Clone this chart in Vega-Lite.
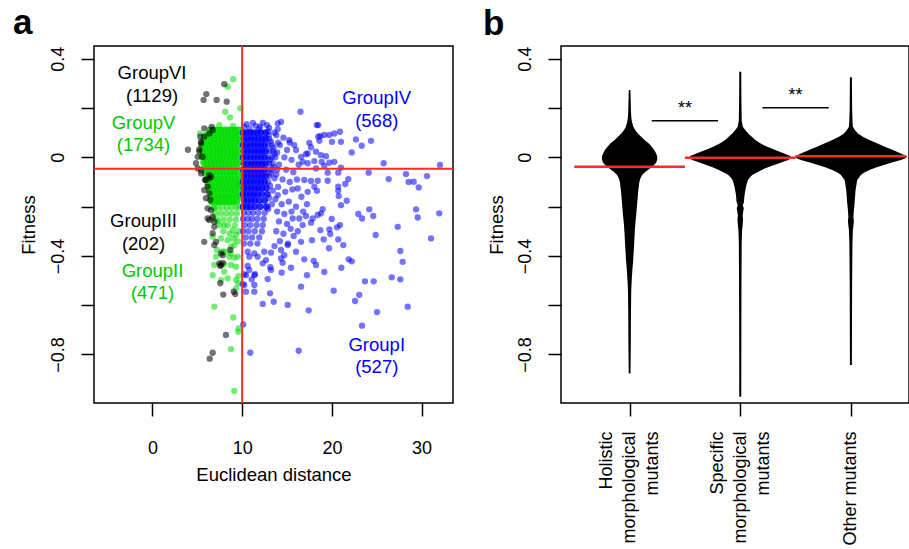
{
"$schema":"https://vega.github.io/schema/vega-lite/v6.json",
"padding":{"left":12,"top":5,"right":0,"bottom":0},
"spacing":108,
"bounds":"flush",
"config":{
"font":"Liberation Sans",
"view":{"stroke":"black","strokeWidth":1.5},
"axis":{"domain":false,"ticks":true,"tickColor":"black","tickWidth":1.5,"tickSize":13,"labelFont":"Liberation Sans","labelFontSize":18,"labelColor":"black","titleFont":"Liberation Sans","titleFontSize":18.5,"titleColor":"black","titleFontWeight":"normal","grid":false,"labelOverlap":false,"labelFlush":false},
"title":{"font":"Liberation Sans","fontSize":35,"fontWeight":"bold","anchor":"start","frame":"group","baseline":"alphabetic","offset":4,"color":"black"}
},
"datasets":{
"pts":[
{"d":8.0,"f":0.297,"c":"k"},{"d":6.0,"f":0.257,"c":"k"},{"d":5.7,"f":0.233,"c":"k"},{"d":7.15,"f":0.233,"c":"k"},{"d":8.27,"f":0.226,"c":"k"},{"d":3.95,"f":0.031,"c":"k"},
{"d":6.71,"f":0.111,"c":"k"},{"d":6.33,"f":0.097,"c":"k"},{"d":5.77,"f":0.084,"c":"k"},{"d":5.41,"f":0.063,"c":"k"},{"d":5.22,"f":0.032,"c":"k"},{"d":5.04,"f":0.002,"c":"k"},{"d":4.85,"f":-0.024,"c":"k"},{"d":5.41,"f":-0.052,"c":"k"},{"d":6.33,"f":-0.072,"c":"k"},{"d":5.96,"f":-0.092,"c":"k"},{"d":6.33,"f":-0.085,"c":"k"},{"d":6.52,"f":-0.079,"c":"k"},{"d":5.77,"f":-0.133,"c":"k"},{"d":5.96,"f":-0.166,"c":"k"},{"d":6.15,"f":-0.207,"c":"k"},{"d":6.15,"f":-0.248,"c":"k"},{"d":6.71,"f":-0.241,"c":"k"},{"d":6.89,"f":-0.261,"c":"k"},{"d":5.77,"f":-0.343,"c":"k"},{"d":6.89,"f":-0.356,"c":"k"},{"d":7.08,"f":-0.343,"c":"k"},{"d":7.83,"f":-0.397,"c":"k"},{"d":7.45,"f":-0.43,"c":"k"},{"d":7.64,"f":-0.437,"c":"k"},{"d":7.56,"f":-0.441,"c":"k"},{"d":7.83,"f":-0.428,"c":"k"},{"d":7.56,"f":-0.511,"c":"k"},{"d":7.89,"f":-0.557,"c":"k"},{"d":9.05,"f":-0.545,"c":"k"},{"d":9.23,"f":-0.555,"c":"k"},{"d":8.19,"f":-0.721,"c":"k"},{"d":6.71,"f":-0.793,"c":"k"},{"d":6.38,"f":-0.817,"c":"k"},{"d":8.67,"f":-0.376,"c":"k"},{"d":7.64,"f":-0.39,"c":"k"},
{"d":5.04,"f":-0.045,"c":"k"},{"d":5.41,"f":-0.065,"c":"k"},{"d":5.85,"f":-0.092,"c":"k"},{"d":6.15,"f":-0.119,"c":"k"},{"d":6.33,"f":-0.146,"c":"k"},{"d":6.44,"f":-0.173,"c":"k"},{"d":6.52,"f":-0.214,"c":"k"},{"d":6.33,"f":-0.254,"c":"k"},{"d":6.89,"f":-0.282,"c":"k"},{"d":6.71,"f":-0.308,"c":"k"},{"d":5.77,"f":0.118,"c":"k"},{"d":6.6,"f":0.124,"c":"k"},{"d":5.41,"f":0.057,"c":"k"},{"d":5.33,"f":0.084,"c":"k"},{"d":5.6,"f":0.002,"c":"k"},{"d":5.22,"f":0.023,"c":"k"},
{"d":9.0,"f":0.317,"c":"g"},{"d":8.38,"f":0.287,"c":"g"},{"d":8.12,"f":0.185,"c":"g"},{"d":8.64,"f":0.162,"c":"g"},{"d":9.79,"f":0.199,"c":"g"},{"d":8.97,"f":0.128,"c":"g"},{"d":7.45,"f":0.131,"c":"g"},{"d":5.3,"f":0.097,"c":"g"},
{"d":6.8,"f":-0.204,"c":"g"},{"d":7.3,"f":-0.204,"c":"g"},{"d":7.8,"f":-0.204,"c":"g"},{"d":8.3,"f":-0.204,"c":"g"},{"d":8.8,"f":-0.204,"c":"g"},{"d":9.3,"f":-0.204,"c":"g"},{"d":9.7,"f":-0.204,"c":"g"},
{"d":7.0,"f":-0.228,"c":"g"},{"d":7.6,"f":-0.228,"c":"g"},{"d":8.2,"f":-0.228,"c":"g"},{"d":8.8,"f":-0.228,"c":"g"},{"d":9.4,"f":-0.228,"c":"g"},
{"d":7.2,"f":-0.252,"c":"g"},{"d":7.9,"f":-0.252,"c":"g"},{"d":8.6,"f":-0.252,"c":"g"},{"d":9.3,"f":-0.252,"c":"g"},
{"d":7.5,"f":-0.276,"c":"g"},{"d":8.4,"f":-0.276,"c":"g"},{"d":9.2,"f":-0.276,"c":"g"},
{"d":6.89,"f":-0.207,"c":"g"},{"d":6.71,"f":-0.248,"c":"g"},{"d":7.27,"f":-0.261,"c":"g"},{"d":8.0,"f":-0.275,"c":"g"},{"d":8.94,"f":-0.295,"c":"g"},{"d":9.31,"f":-0.315,"c":"g"},{"d":6.71,"f":-0.322,"c":"g"},{"d":7.64,"f":-0.329,"c":"g"},{"d":8.38,"f":-0.336,"c":"g"},{"d":9.12,"f":-0.356,"c":"g"},{"d":8.75,"f":-0.363,"c":"g"},{"d":7.83,"f":-0.383,"c":"g"},{"d":7.08,"f":-0.403,"c":"g"},{"d":8.56,"f":-0.403,"c":"g"},{"d":9.12,"f":-0.407,"c":"g"},{"d":6.89,"f":-0.437,"c":"g"},{"d":8.0,"f":-0.434,"c":"g"},{"d":8.75,"f":-0.437,"c":"g"},{"d":9.31,"f":-0.444,"c":"g"},{"d":6.71,"f":-0.478,"c":"g"},{"d":8.38,"f":-0.491,"c":"g"},{"d":9.31,"f":-0.498,"c":"g"},{"d":7.64,"f":-0.498,"c":"g"},{"d":9.57,"f":-0.511,"c":"g"},{"d":9.31,"f":-0.532,"c":"g"},{"d":6.89,"f":-0.606,"c":"g"},{"d":9.0,"f":-0.65,"c":"g"},{"d":9.59,"f":-0.694,"c":"g"},{"d":9.57,"f":-0.708,"c":"g"},{"d":8.75,"f":-0.778,"c":"g"},{"d":9.12,"f":-0.948,"c":"g"},{"d":7.19,"f":-0.376,"c":"g"},{"d":8.08,"f":-0.383,"c":"g"},{"d":8.75,"f":-0.39,"c":"g"},{"d":9.5,"f":-0.403,"c":"g"},{"d":8.0,"f":-0.464,"c":"g"},{"d":9.57,"f":-0.482,"c":"g"},{"d":9.6,"f":-0.3,"c":"g"},{"d":8.6,"f":-0.31,"c":"g"},{"d":7.9,"f":-0.3,"c":"g"},{"d":9.5,"f":-0.34,"c":"g"},{"d":9.0,"f":-0.33,"c":"g"},
{"d":13.0,"f":0.075,"c":"b"},{"d":12.9,"f":0.05,"c":"b"},{"d":13.3,"f":0.05,"c":"b"},{"d":13.0,"f":0.025,"c":"b"},{"d":13.4,"f":0.025,"c":"b"},{"d":12.9,"f":0.0,"c":"b"},{"d":13.3,"f":0.0,"c":"b"},{"d":13.7,"f":0.0,"c":"b"},{"d":13.0,"f":-0.025,"c":"b"},{"d":13.4,"f":-0.025,"c":"b"},{"d":12.9,"f":-0.05,"c":"b"},{"d":13.3,"f":-0.05,"c":"b"},{"d":13.0,"f":-0.075,"c":"b"},{"d":12.9,"f":-0.1,"c":"b"},
{"d":10.8,"f":0.118,"c":"b"},{"d":11.9,"f":0.115,"c":"b"},{"d":12.9,"f":0.105,"c":"b"},{"d":11.2,"f":0.14,"c":"b"},{"d":12.0,"f":0.125,"c":"b"},{"d":12.95,"f":0.09,"c":"b"},{"d":13.2,"f":0.065,"c":"b"},{"d":13.5,"f":0.04,"c":"b"},{"d":13.6,"f":0.015,"c":"b"},{"d":13.1,"f":-0.01,"c":"b"},{"d":13.5,"f":-0.04,"c":"b"},{"d":13.2,"f":-0.065,"c":"b"},{"d":13.6,"f":-0.085,"c":"b"},{"d":13.1,"f":-0.115,"c":"b"},{"d":13.4,"f":-0.135,"c":"b"},{"d":13.0,"f":-0.165,"c":"b"},{"d":13.3,"f":-0.19,"c":"b"},{"d":12.9,"f":-0.21,"c":"b"},{"d":13.9,"f":-0.05,"c":"b"},{"d":14.0,"f":0.06,"c":"b"},{"d":13.6,"f":0.1,"c":"b"},
{"d":10.2,"f":-0.225,"c":"b"},{"d":10.7,"f":-0.225,"c":"b"},{"d":11.2,"f":-0.225,"c":"b"},{"d":11.8,"f":-0.225,"c":"b"},{"d":12.5,"f":-0.225,"c":"b"},
{"d":10.1,"f":-0.25,"c":"b"},{"d":10.6,"f":-0.25,"c":"b"},{"d":11.1,"f":-0.25,"c":"b"},{"d":11.7,"f":-0.25,"c":"b"},{"d":12.4,"f":-0.25,"c":"b"},
{"d":10.3,"f":-0.275,"c":"b"},{"d":10.9,"f":-0.275,"c":"b"},{"d":11.6,"f":-0.275,"c":"b"},{"d":12.3,"f":-0.275,"c":"b"},
{"d":10.1,"f":-0.3,"c":"b"},{"d":10.7,"f":-0.3,"c":"b"},{"d":11.4,"f":-0.3,"c":"b"},{"d":12.2,"f":-0.3,"c":"b"},
{"d":10.4,"f":-0.325,"c":"b"},{"d":11.1,"f":-0.325,"c":"b"},{"d":11.9,"f":-0.325,"c":"b"},
{"d":10.2,"f":-0.35,"c":"b"},{"d":10.9,"f":-0.35,"c":"b"},{"d":11.7,"f":-0.35,"c":"b"},
{"d":10.5,"f":0.135,"c":"b"},{"d":11.5,"f":0.128,"c":"b"},{"d":12.3,"f":0.14,"c":"b"},{"d":13.0,"f":0.12,"c":"b"},{"d":10.2,"f":0.125,"c":"b"},{"d":12.76,"f":0.131,"c":"b"},{"d":13.96,"f":0.138,"c":"b"},{"d":14.33,"f":0.144,"c":"b"},{"d":13.96,"f":0.114,"c":"b"},{"d":16.5,"f":0.185,"c":"b"},{"d":18.48,"f":0.131,"c":"b"},{"d":15.25,"f":0.07,"c":"b"},{"d":17.48,"f":0.059,"c":"b"},{"d":18.48,"f":0.084,"c":"b"},{"d":16.0,"f":0.03,"c":"b"},{"d":16.56,"f":0.002,"c":"b"},{"d":17.3,"f":0.016,"c":"b"},
{"d":13.8,"f":0.09,"c":"b"},{"d":14.6,"f":0.08,"c":"b"},{"d":15.3,"f":0.06,"c":"b"},{"d":14.2,"f":0.05,"c":"b"},{"d":15.0,"f":0.03,"c":"b"},{"d":15.8,"f":0.05,"c":"b"},{"d":13.9,"f":0.02,"c":"b"},{"d":14.7,"f":0.0,"c":"b"},{"d":15.5,"f":-0.01,"c":"b"},{"d":16.3,"f":-0.03,"c":"b"},{"d":14.1,"f":-0.03,"c":"b"},{"d":14.9,"f":-0.05,"c":"b"},{"d":15.7,"f":-0.06,"c":"b"},{"d":13.8,"f":-0.07,"c":"b"},{"d":14.5,"f":-0.09,"c":"b"},{"d":15.3,"f":-0.1,"c":"b"},{"d":16.1,"f":-0.09,"c":"b"},{"d":14.0,"f":-0.12,"c":"b"},{"d":14.8,"f":-0.14,"c":"b"},{"d":15.6,"f":-0.13,"c":"b"},{"d":16.6,"f":-0.16,"c":"b"},{"d":13.7,"f":-0.17,"c":"b"},{"d":14.4,"f":-0.19,"c":"b"},{"d":15.2,"f":-0.18,"c":"b"},{"d":16.0,"f":-0.2,"c":"b"},{"d":13.9,"f":-0.22,"c":"b"},{"d":14.7,"f":-0.23,"c":"b"},{"d":15.5,"f":-0.22,"c":"b"},{"d":16.8,"f":-0.22,"c":"b"},{"d":14.1,"f":-0.26,"c":"b"},{"d":15.0,"f":-0.27,"c":"b"},{"d":13.8,"f":-0.3,"c":"b"},{"d":14.6,"f":-0.31,"c":"b"},{"d":15.4,"f":-0.29,"c":"b"},{"d":16.2,"f":-0.3,"c":"b"},{"d":14.2,"f":-0.34,"c":"b"},{"d":15.1,"f":-0.35,"c":"b"},{"d":13.6,"f":-0.36,"c":"b"},
{"d":18.31,"f":0.131,"c":"b"},{"d":18.71,"f":0.086,"c":"b"},{"d":19.15,"f":0.091,"c":"b"},{"d":19.71,"f":0.091,"c":"b"},{"d":20.27,"f":0.097,"c":"b"},{"d":20.9,"f":0.104,"c":"b"},{"d":18.6,"f":0.067,"c":"b"},{"d":20.01,"f":0.063,"c":"b"},{"d":21.01,"f":0.063,"c":"b"},{"d":22.68,"f":0.073,"c":"b"},{"d":23.32,"f":0.047,"c":"b"},{"d":24.36,"f":0.067,"c":"b"},{"d":22.21,"f":0.02,"c":"b"},{"d":17.67,"f":0.041,"c":"b"},{"d":18.23,"f":0.023,"c":"b"},{"d":17.11,"f":0.013,"c":"b"},{"d":16.74,"f":-0.018,"c":"b"},{"d":17.3,"f":-0.024,"c":"b"},{"d":18.04,"f":-0.015,"c":"b"},{"d":18.78,"f":0.009,"c":"b"},{"d":19.34,"f":0.005,"c":"b"},{"d":18.86,"f":-0.018,"c":"b"},{"d":19.71,"f":-0.022,"c":"b"},{"d":20.27,"f":-0.018,"c":"b"},{"d":18.23,"f":-0.045,"c":"b"},{"d":19.15,"f":-0.035,"c":"b"},{"d":21.01,"f":-0.042,"c":"b"},{"d":25.77,"f":-0.024,"c":"b"},{"d":32.05,"f":-0.031,"c":"b"},{"d":19.53,"f":-0.062,"c":"b"},{"d":20.71,"f":-0.062,"c":"b"},{"d":24.1,"f":-0.062,"c":"b"},{"d":28.26,"f":-0.068,"c":"b"},{"d":30.6,"f":-0.076,"c":"b"},{"d":16.92,"f":-0.092,"c":"b"},{"d":17.67,"f":-0.096,"c":"b"},{"d":18.42,"f":-0.095,"c":"b"},{"d":19.53,"f":-0.095,"c":"b"},{"d":21.83,"f":-0.088,"c":"b"},{"d":26.33,"f":-0.088,"c":"b"},{"d":28.56,"f":-0.1,"c":"b"},{"d":29.12,"f":-0.099,"c":"b"},{"d":29.68,"f":-0.122,"c":"b"},{"d":21.49,"f":-0.108,"c":"b"},{"d":20.71,"f":-0.119,"c":"b"},{"d":20.71,"f":-0.136,"c":"b"},{"d":20.76,"f":-0.157,"c":"b"},{"d":18.04,"f":-0.119,"c":"b"},{"d":18.34,"f":-0.136,"c":"b"},{"d":17.3,"f":-0.14,"c":"b"},{"d":21.65,"f":-0.176,"c":"b"},{"d":21.01,"f":-0.194,"c":"b"},{"d":24.17,"f":-0.211,"c":"b"},{"d":29.38,"f":-0.211,"c":"b"},{"d":18.97,"f":-0.21,"c":"b"},
{"d":17.22,"f":-0.19,"c":"b"},{"d":17.11,"f":-0.238,"c":"b"},{"d":17.86,"f":-0.248,"c":"b"},{"d":18.42,"f":-0.234,"c":"b"},{"d":18.78,"f":-0.227,"c":"b"},{"d":17.67,"f":-0.265,"c":"b"},{"d":16.74,"f":-0.275,"c":"b"},{"d":19.98,"f":-0.25,"c":"b"},{"d":22.94,"f":-0.23,"c":"b"},{"d":23.36,"f":-0.248,"c":"b"},{"d":24.61,"f":-0.238,"c":"b"},{"d":29.57,"f":-0.244,"c":"b"},{"d":31.97,"f":-0.227,"c":"b"},{"d":27.34,"f":-0.282,"c":"b"},{"d":18.71,"f":-0.295,"c":"b"},{"d":19.71,"f":-0.292,"c":"b"},{"d":19.82,"f":-0.311,"c":"b"},{"d":20.57,"f":-0.284,"c":"b"},{"d":20.9,"f":-0.275,"c":"b"},{"d":24.88,"f":-0.315,"c":"b"},{"d":16.56,"f":-0.343,"c":"b"},{"d":17.78,"f":-0.336,"c":"b"},{"d":19.09,"f":-0.333,"c":"b"},{"d":20.71,"f":-0.333,"c":"b"},{"d":21.27,"f":-0.356,"c":"b"},{"d":19.68,"f":-0.369,"c":"b"},{"d":31.05,"f":-0.329,"c":"b"},{"d":27.63,"f":-0.38,"c":"b"},{"d":27.89,"f":-0.424,"c":"b"},{"d":16.92,"f":-0.414,"c":"b"},{"d":17.97,"f":-0.42,"c":"b"},{"d":18.23,"f":-0.437,"c":"b"},{"d":21.87,"f":-0.414,"c":"b"},{"d":22.21,"f":-0.422,"c":"b"},{"d":21.05,"f":-0.448,"c":"b"},{"d":19.15,"f":-0.465,"c":"b"},{"d":17.22,"f":-0.478,"c":"b"},{"d":23.69,"f":-0.503,"c":"b"},{"d":24.66,"f":-0.503,"c":"b"},{"d":26.67,"f":-0.487,"c":"b"},{"d":27.63,"f":-0.495,"c":"b"},{"d":16.56,"f":-0.525,"c":"b"},{"d":20.2,"f":-0.541,"c":"b"},{"d":23.05,"f":-0.558,"c":"b"},{"d":22.58,"f":-0.583,"c":"b"},{"d":28.45,"f":-0.606,"c":"b"},{"d":17.41,"f":-0.621,"c":"b"},{"d":25.03,"f":-0.628,"c":"b"},{"d":23.36,"f":-0.683,"c":"b"},
{"d":10.61,"f":-0.383,"c":"b"},{"d":11.35,"f":-0.39,"c":"b"},{"d":12.46,"f":-0.383,"c":"b"},{"d":13.21,"f":-0.387,"c":"b"},{"d":14.33,"f":-0.376,"c":"b"},{"d":14.69,"f":-0.397,"c":"b"},{"d":16.0,"f":-0.383,"c":"b"},{"d":15.44,"f":-0.448,"c":"b"},{"d":14.51,"f":-0.428,"c":"b"},{"d":14.4,"f":-0.468,"c":"b"},{"d":13.13,"f":-0.446,"c":"b"},{"d":12.29,"f":-0.43,"c":"b"},{"d":12.65,"f":-0.417,"c":"b"},{"d":10.79,"f":-0.403,"c":"b"},{"d":11.73,"f":-0.403,"c":"b"},{"d":10.61,"f":-0.441,"c":"b"},{"d":10.79,"f":-0.457,"c":"b"},{"d":11.43,"f":-0.474,"c":"b"},{"d":10.23,"f":-0.474,"c":"b"},{"d":11.06,"f":-0.495,"c":"b"},{"d":12.84,"f":-0.494,"c":"b"},{"d":10.06,"f":-0.515,"c":"b"},{"d":11.35,"f":-0.518,"c":"b"},{"d":10.42,"f":-0.545,"c":"b"},{"d":11.35,"f":-0.545,"c":"b"},{"d":13.1,"f":-0.552,"c":"b"},{"d":12.29,"f":-0.595,"c":"b"},{"d":13.51,"f":-0.586,"c":"b"},{"d":15.07,"f":-0.599,"c":"b"},{"d":10.12,"f":-0.678,"c":"b"},{"d":16.3,"f":-0.785,"c":"b"},{"d":10.9,"f":-0.793,"c":"b"},{"d":13.21,"f":-0.457,"c":"b"},
{"d":16.19,"f":-0.126,"c":"b"},{"d":13.96,"f":-0.153,"c":"b"},{"d":15.63,"f":-0.248,"c":"b"},{"d":16.37,"f":-0.248,"c":"b"},{"d":15.74,"f":-0.319,"c":"b"},{"d":15.07,"f":-0.356,"c":"b"},{"d":14.33,"f":-0.41,"c":"b"},{"d":11.35,"f":-0.478,"c":"b"},{"d":10.42,"f":-0.478,"c":"b"},{"d":10.23,"f":-0.518,"c":"b"}
],
"core":[
{"d":6.4,"f":0.112,"c":"g"},{"d":6.8,"f":0.112,"c":"g"},{"d":7.2,"f":0.112,"c":"g"},{"d":7.6,"f":0.112,"c":"g"},{"d":8.0,"f":0.112,"c":"g"},{"d":8.4,"f":0.112,"c":"g"},{"d":8.8,"f":0.112,"c":"g"},{"d":9.2,"f":0.112,"c":"g"},{"d":9.6,"f":0.112,"c":"g"},
{"d":6.0,"f":0.09,"c":"g"},{"d":6.4,"f":0.09,"c":"g"},{"d":6.8,"f":0.09,"c":"g"},{"d":7.2,"f":0.09,"c":"g"},{"d":7.6,"f":0.09,"c":"g"},{"d":8.0,"f":0.09,"c":"g"},{"d":8.4,"f":0.09,"c":"g"},{"d":8.8,"f":0.09,"c":"g"},{"d":9.2,"f":0.09,"c":"g"},{"d":9.6,"f":0.09,"c":"g"},
{"d":5.7,"f":0.068,"c":"g"},{"d":6.1,"f":0.068,"c":"g"},{"d":6.5,"f":0.068,"c":"g"},{"d":6.9,"f":0.068,"c":"g"},{"d":7.3,"f":0.068,"c":"g"},{"d":7.7,"f":0.068,"c":"g"},{"d":8.1,"f":0.068,"c":"g"},{"d":8.5,"f":0.068,"c":"g"},{"d":8.9,"f":0.068,"c":"g"},{"d":9.3,"f":0.068,"c":"g"},{"d":9.7,"f":0.068,"c":"g"},
{"d":5.5,"f":0.046,"c":"g"},{"d":5.9,"f":0.046,"c":"g"},{"d":6.3,"f":0.046,"c":"g"},{"d":6.7,"f":0.046,"c":"g"},{"d":7.1,"f":0.046,"c":"g"},{"d":7.5,"f":0.046,"c":"g"},{"d":7.9,"f":0.046,"c":"g"},{"d":8.3,"f":0.046,"c":"g"},{"d":8.7,"f":0.046,"c":"g"},{"d":9.1,"f":0.046,"c":"g"},{"d":9.5,"f":0.046,"c":"g"},
{"d":5.6,"f":0.024,"c":"g"},{"d":6.0,"f":0.024,"c":"g"},{"d":6.4,"f":0.024,"c":"g"},{"d":6.8,"f":0.024,"c":"g"},{"d":7.2,"f":0.024,"c":"g"},{"d":7.6,"f":0.024,"c":"g"},{"d":8.0,"f":0.024,"c":"g"},{"d":8.4,"f":0.024,"c":"g"},{"d":8.8,"f":0.024,"c":"g"},{"d":9.2,"f":0.024,"c":"g"},{"d":9.6,"f":0.024,"c":"g"},
{"d":5.5,"f":0.002,"c":"g"},{"d":5.9,"f":0.002,"c":"g"},{"d":6.3,"f":0.002,"c":"g"},{"d":6.7,"f":0.002,"c":"g"},{"d":7.1,"f":0.002,"c":"g"},{"d":7.5,"f":0.002,"c":"g"},{"d":7.9,"f":0.002,"c":"g"},{"d":8.3,"f":0.002,"c":"g"},{"d":8.7,"f":0.002,"c":"g"},{"d":9.1,"f":0.002,"c":"g"},{"d":9.5,"f":0.002,"c":"g"},
{"d":5.7,"f":-0.02,"c":"g"},{"d":6.1,"f":-0.02,"c":"g"},{"d":6.5,"f":-0.02,"c":"g"},{"d":6.9,"f":-0.02,"c":"g"},{"d":7.3,"f":-0.02,"c":"g"},{"d":7.7,"f":-0.02,"c":"g"},{"d":8.1,"f":-0.02,"c":"g"},{"d":8.5,"f":-0.02,"c":"g"},{"d":8.9,"f":-0.02,"c":"g"},{"d":9.3,"f":-0.02,"c":"g"},{"d":9.7,"f":-0.02,"c":"g"},
{"d":5.8,"f":-0.043,"c":"g"},{"d":6.2,"f":-0.043,"c":"g"},{"d":6.6,"f":-0.043,"c":"g"},{"d":7.0,"f":-0.043,"c":"g"},{"d":7.4,"f":-0.043,"c":"g"},{"d":7.8,"f":-0.043,"c":"g"},{"d":8.2,"f":-0.043,"c":"g"},{"d":8.6,"f":-0.043,"c":"g"},{"d":9.0,"f":-0.043,"c":"g"},{"d":9.4,"f":-0.043,"c":"g"},
{"d":5.9,"f":-0.066,"c":"g"},{"d":6.3,"f":-0.066,"c":"g"},{"d":6.7,"f":-0.066,"c":"g"},{"d":7.1,"f":-0.066,"c":"g"},{"d":7.5,"f":-0.066,"c":"g"},{"d":7.9,"f":-0.066,"c":"g"},{"d":8.3,"f":-0.066,"c":"g"},{"d":8.7,"f":-0.066,"c":"g"},{"d":9.1,"f":-0.066,"c":"g"},{"d":9.5,"f":-0.066,"c":"g"},
{"d":6.0,"f":-0.089,"c":"g"},{"d":6.4,"f":-0.089,"c":"g"},{"d":6.8,"f":-0.089,"c":"g"},{"d":7.2,"f":-0.089,"c":"g"},{"d":7.6,"f":-0.089,"c":"g"},{"d":8.0,"f":-0.089,"c":"g"},{"d":8.4,"f":-0.089,"c":"g"},{"d":8.8,"f":-0.089,"c":"g"},{"d":9.2,"f":-0.089,"c":"g"},{"d":9.6,"f":-0.089,"c":"g"},
{"d":6.2,"f":-0.112,"c":"g"},{"d":6.6,"f":-0.112,"c":"g"},{"d":7.0,"f":-0.112,"c":"g"},{"d":7.4,"f":-0.112,"c":"g"},{"d":7.8,"f":-0.112,"c":"g"},{"d":8.2,"f":-0.112,"c":"g"},{"d":8.6,"f":-0.112,"c":"g"},{"d":9.0,"f":-0.112,"c":"g"},{"d":9.4,"f":-0.112,"c":"g"},{"d":9.7,"f":-0.112,"c":"g"},
{"d":6.4,"f":-0.135,"c":"g"},{"d":6.8,"f":-0.135,"c":"g"},{"d":7.2,"f":-0.135,"c":"g"},{"d":7.6,"f":-0.135,"c":"g"},{"d":8.0,"f":-0.135,"c":"g"},{"d":8.4,"f":-0.135,"c":"g"},{"d":8.8,"f":-0.135,"c":"g"},{"d":9.2,"f":-0.135,"c":"g"},{"d":9.6,"f":-0.135,"c":"g"},
{"d":6.5,"f":-0.158,"c":"g"},{"d":6.9,"f":-0.158,"c":"g"},{"d":7.3,"f":-0.158,"c":"g"},{"d":7.7,"f":-0.158,"c":"g"},{"d":8.1,"f":-0.158,"c":"g"},{"d":8.5,"f":-0.158,"c":"g"},{"d":8.9,"f":-0.158,"c":"g"},{"d":9.3,"f":-0.158,"c":"g"},{"d":9.7,"f":-0.158,"c":"g"},
{"d":6.6,"f":-0.181,"c":"g"},{"d":7.0,"f":-0.181,"c":"g"},{"d":7.4,"f":-0.181,"c":"g"},{"d":7.8,"f":-0.181,"c":"g"},{"d":8.2,"f":-0.181,"c":"g"},{"d":8.6,"f":-0.181,"c":"g"},{"d":9.0,"f":-0.181,"c":"g"},{"d":9.4,"f":-0.181,"c":"g"},
{"d":10.1,"f":0.1,"c":"b"},{"d":10.5,"f":0.1,"c":"b"},{"d":10.9,"f":0.1,"c":"b"},{"d":11.3,"f":0.1,"c":"b"},{"d":11.7,"f":0.1,"c":"b"},{"d":12.1,"f":0.1,"c":"b"},{"d":12.6,"f":0.1,"c":"b"},
{"d":10.2,"f":0.075,"c":"b"},{"d":10.6,"f":0.075,"c":"b"},{"d":11.0,"f":0.075,"c":"b"},{"d":11.4,"f":0.075,"c":"b"},{"d":11.8,"f":0.075,"c":"b"},{"d":12.2,"f":0.075,"c":"b"},{"d":12.6,"f":0.075,"c":"b"},
{"d":10.1,"f":0.05,"c":"b"},{"d":10.5,"f":0.05,"c":"b"},{"d":10.9,"f":0.05,"c":"b"},{"d":11.3,"f":0.05,"c":"b"},{"d":11.7,"f":0.05,"c":"b"},{"d":12.1,"f":0.05,"c":"b"},{"d":12.5,"f":0.05,"c":"b"},
{"d":10.2,"f":0.025,"c":"b"},{"d":10.6,"f":0.025,"c":"b"},{"d":11.0,"f":0.025,"c":"b"},{"d":11.4,"f":0.025,"c":"b"},{"d":11.8,"f":0.025,"c":"b"},{"d":12.2,"f":0.025,"c":"b"},{"d":12.6,"f":0.025,"c":"b"},
{"d":10.1,"f":0.0,"c":"b"},{"d":10.5,"f":0.0,"c":"b"},{"d":10.9,"f":0.0,"c":"b"},{"d":11.3,"f":0.0,"c":"b"},{"d":11.7,"f":0.0,"c":"b"},{"d":12.1,"f":0.0,"c":"b"},{"d":12.5,"f":0.0,"c":"b"},
{"d":10.2,"f":-0.025,"c":"b"},{"d":10.6,"f":-0.025,"c":"b"},{"d":11.0,"f":-0.025,"c":"b"},{"d":11.4,"f":-0.025,"c":"b"},{"d":11.8,"f":-0.025,"c":"b"},{"d":12.2,"f":-0.025,"c":"b"},{"d":12.6,"f":-0.025,"c":"b"},
{"d":10.1,"f":-0.05,"c":"b"},{"d":10.5,"f":-0.05,"c":"b"},{"d":10.9,"f":-0.05,"c":"b"},{"d":11.3,"f":-0.05,"c":"b"},{"d":11.7,"f":-0.05,"c":"b"},{"d":12.1,"f":-0.05,"c":"b"},{"d":12.5,"f":-0.05,"c":"b"},
{"d":10.2,"f":-0.075,"c":"b"},{"d":10.6,"f":-0.075,"c":"b"},{"d":11.0,"f":-0.075,"c":"b"},{"d":11.4,"f":-0.075,"c":"b"},{"d":11.8,"f":-0.075,"c":"b"},{"d":12.2,"f":-0.075,"c":"b"},{"d":12.6,"f":-0.075,"c":"b"},
{"d":10.1,"f":-0.1,"c":"b"},{"d":10.5,"f":-0.1,"c":"b"},{"d":10.9,"f":-0.1,"c":"b"},{"d":11.3,"f":-0.1,"c":"b"},{"d":11.7,"f":-0.1,"c":"b"},{"d":12.1,"f":-0.1,"c":"b"},{"d":12.5,"f":-0.1,"c":"b"},
{"d":10.2,"f":-0.125,"c":"b"},{"d":10.6,"f":-0.125,"c":"b"},{"d":11.0,"f":-0.125,"c":"b"},{"d":11.4,"f":-0.125,"c":"b"},{"d":11.8,"f":-0.125,"c":"b"},{"d":12.2,"f":-0.125,"c":"b"},{"d":12.7,"f":-0.125,"c":"b"},
{"d":10.1,"f":-0.15,"c":"b"},{"d":10.5,"f":-0.15,"c":"b"},{"d":10.9,"f":-0.15,"c":"b"},{"d":11.3,"f":-0.15,"c":"b"},{"d":11.7,"f":-0.15,"c":"b"},{"d":12.2,"f":-0.15,"c":"b"},{"d":12.8,"f":-0.15,"c":"b"},
{"d":10.2,"f":-0.175,"c":"b"},{"d":10.6,"f":-0.175,"c":"b"},{"d":11.0,"f":-0.175,"c":"b"},{"d":11.4,"f":-0.175,"c":"b"},{"d":11.9,"f":-0.175,"c":"b"},{"d":12.5,"f":-0.175,"c":"b"},
{"d":10.1,"f":-0.2,"c":"b"},{"d":10.5,"f":-0.2,"c":"b"},{"d":10.9,"f":-0.2,"c":"b"},{"d":11.4,"f":-0.2,"c":"b"},{"d":12.0,"f":-0.2,"c":"b"},{"d":12.7,"f":-0.2,"c":"b"}
],
"labs":[
{"d":-0.05,"f":0.318,"t":"GroupVI","c":"k"},{"d":-0.05,"f":0.226,"t":"(1129)","c":"k"},
{"d":-1.0,"f":0.114,"t":"GroupV","c":"g"},{"d":-1.0,"f":0.027,"t":"(1734)","c":"g"},
{"d":25.0,"f":0.216,"t":"GroupIV","c":"b"},{"d":25.0,"f":0.124,"t":"(568)","c":"b"},
{"d":-1.0,"f":-0.284,"t":"GroupIII","c":"k"},{"d":-1.0,"f":-0.375,"t":"(202)","c":"k"},
{"d":0.0,"f":-0.485,"t":"GroupII","c":"g"},{"d":0.0,"f":-0.576,"t":"(471)","c":"g"},
{"d":25.0,"f":-0.785,"t":"GroupI","c":"b"},{"d":25.0,"f":-0.877,"t":"(527)","c":"b"}
],
"vio":[
{"v":1,"f":0.273,"lo":0.993,"hi":1.007},{"v":1,"f":0.233,"lo":0.99,"hi":1.01},{"v":1,"f":0.19,"lo":0.988,"hi":1.012},{"v":1,"f":0.165,"lo":0.985,"hi":1.015},{"v":1,"f":0.15,"lo":0.981,"hi":1.019},{"v":1,"f":0.138,"lo":0.975,"hi":1.025},{"v":1,"f":0.124,"lo":0.966,"hi":1.034},{"v":1,"f":0.111,"lo":0.95,"hi":1.05},{"v":1,"f":0.097,"lo":0.925,"hi":1.075},{"v":1,"f":0.084,"lo":0.895,"hi":1.105},{"v":1,"f":0.07,"lo":0.865,"hi":1.135},{"v":1,"f":0.057,"lo":0.828,"hi":1.172},{"v":1,"f":0.043,"lo":0.8,"hi":1.2},{"v":1,"f":0.03,"lo":0.777,"hi":1.223},{"v":1,"f":0.016,"lo":0.76,"hi":1.24},{"v":1,"f":0.004,"lo":0.75,"hi":1.25},{"v":1,"f":-0.008,"lo":0.75,"hi":1.25},{"v":1,"f":-0.02,"lo":0.758,"hi":1.242},{"v":1,"f":-0.031,"lo":0.778,"hi":1.222},{"v":1,"f":-0.045,"lo":0.817,"hi":1.183},{"v":1,"f":-0.058,"lo":0.857,"hi":1.143},{"v":1,"f":-0.072,"lo":0.887,"hi":1.113},{"v":1,"f":-0.085,"lo":0.902,"hi":1.098},{"v":1,"f":-0.1,"lo":0.912,"hi":1.088},{"v":1,"f":-0.133,"lo":0.921,"hi":1.079},{"v":1,"f":-0.173,"lo":0.929,"hi":1.071},{"v":1,"f":-0.2,"lo":0.934,"hi":1.066},{"v":1,"f":-0.241,"lo":0.942,"hi":1.058},{"v":1,"f":-0.268,"lo":0.948,"hi":1.052},{"v":1,"f":-0.308,"lo":0.954,"hi":1.046},{"v":1,"f":-0.376,"lo":0.962,"hi":1.038},{"v":1,"f":-0.42,"lo":0.968,"hi":1.032},{"v":1,"f":-0.457,"lo":0.975,"hi":1.025},{"v":1,"f":-0.5,"lo":0.981,"hi":1.019},{"v":1,"f":-0.538,"lo":0.985,"hi":1.015},{"v":1,"f":-0.647,"lo":0.988,"hi":1.012},{"v":1,"f":-0.75,"lo":0.989,"hi":1.011},{"v":1,"f":-0.877,"lo":0.992,"hi":1.008},
{"v":2,"f":0.347,"lo":1.991,"hi":2.009},{"v":2,"f":0.25,"lo":1.99,"hi":2.01},{"v":2,"f":0.15,"lo":1.987,"hi":2.013},{"v":2,"f":0.124,"lo":1.977,"hi":2.023},{"v":2,"f":0.111,"lo":1.955,"hi":2.045},{"v":2,"f":0.097,"lo":1.928,"hi":2.072},{"v":2,"f":0.084,"lo":1.896,"hi":2.104},{"v":2,"f":0.07,"lo":1.864,"hi":2.136},{"v":2,"f":0.057,"lo":1.819,"hi":2.181},{"v":2,"f":0.043,"lo":1.756,"hi":2.244},{"v":2,"f":0.03,"lo":1.684,"hi":2.316},{"v":2,"f":0.016,"lo":1.603,"hi":2.397},{"v":2,"f":0.006,"lo":1.548,"hi":2.452},{"v":2,"f":-0.001,"lo":1.535,"hi":2.465},{"v":2,"f":-0.011,"lo":1.566,"hi":2.434},{"v":2,"f":-0.021,"lo":1.63,"hi":2.37},{"v":2,"f":-0.031,"lo":1.693,"hi":2.307},{"v":2,"f":-0.041,"lo":1.756,"hi":2.244},{"v":2,"f":-0.052,"lo":1.81,"hi":2.19},{"v":2,"f":-0.062,"lo":1.855,"hi":2.145},{"v":2,"f":-0.072,"lo":1.892,"hi":2.108},{"v":2,"f":-0.082,"lo":1.914,"hi":2.086},{"v":2,"f":-0.092,"lo":1.93,"hi":2.07},{"v":2,"f":-0.105,"lo":1.94,"hi":2.06},{"v":2,"f":-0.119,"lo":1.948,"hi":2.052},{"v":2,"f":-0.146,"lo":1.959,"hi":2.041},{"v":2,"f":-0.165,"lo":1.964,"hi":2.036},{"v":2,"f":-0.18,"lo":1.966,"hi":2.034},{"v":2,"f":-0.194,"lo":1.977,"hi":2.023},{"v":2,"f":-0.207,"lo":1.968,"hi":2.032},{"v":2,"f":-0.22,"lo":1.973,"hi":2.027},{"v":2,"f":-0.234,"lo":1.978,"hi":2.022},{"v":2,"f":-0.25,"lo":1.975,"hi":2.025},{"v":2,"f":-0.268,"lo":1.977,"hi":2.023},{"v":2,"f":-0.3,"lo":1.984,"hi":2.016},{"v":2,"f":-0.35,"lo":1.987,"hi":2.013},{"v":2,"f":-0.5,"lo":1.989,"hi":2.011},{"v":2,"f":-0.7,"lo":1.99,"hi":2.01},{"v":2,"f":-0.972,"lo":1.991,"hi":2.009},
{"v":3,"f":0.325,"lo":2.991,"hi":3.009},{"v":3,"f":0.2,"lo":2.989,"hi":3.011},{"v":3,"f":0.15,"lo":2.986,"hi":3.014},{"v":3,"f":0.124,"lo":2.982,"hi":3.018},{"v":3,"f":0.111,"lo":2.964,"hi":3.036},{"v":3,"f":0.097,"lo":2.937,"hi":3.063},{"v":3,"f":0.084,"lo":2.892,"hi":3.108},{"v":3,"f":0.07,"lo":2.833,"hi":3.167},{"v":3,"f":0.057,"lo":2.765,"hi":3.235},{"v":3,"f":0.043,"lo":2.693,"hi":3.307},{"v":3,"f":0.03,"lo":2.621,"hi":3.379},{"v":3,"f":0.016,"lo":2.548,"hi":3.452},{"v":3,"f":0.005,"lo":2.494,"hi":3.506},{"v":3,"f":-0.003,"lo":2.503,"hi":3.497},{"v":3,"f":-0.011,"lo":2.548,"hi":3.452},{"v":3,"f":-0.021,"lo":2.63,"hi":3.37},{"v":3,"f":-0.031,"lo":2.702,"hi":3.298},{"v":3,"f":-0.041,"lo":2.774,"hi":3.226},{"v":3,"f":-0.052,"lo":2.837,"hi":3.163},{"v":3,"f":-0.062,"lo":2.883,"hi":3.117},{"v":3,"f":-0.072,"lo":2.91,"hi":3.09},{"v":3,"f":-0.092,"lo":2.943,"hi":3.057},{"v":3,"f":-0.133,"lo":2.958,"hi":3.042},{"v":3,"f":-0.187,"lo":2.967,"hi":3.033},{"v":3,"f":-0.215,"lo":2.973,"hi":3.027},{"v":3,"f":-0.241,"lo":2.977,"hi":3.023},{"v":3,"f":-0.26,"lo":2.973,"hi":3.027},{"v":3,"f":-0.295,"lo":2.982,"hi":3.018},{"v":3,"f":-0.35,"lo":2.986,"hi":3.014},{"v":3,"f":-0.5,"lo":2.989,"hi":3.011},{"v":3,"f":-0.843,"lo":2.991,"hi":3.009}
],
"med":[{"lo":0.5,"hi":1.5,"m":-0.038},{"lo":1.5,"hi":2.5,"m":-0.002},{"lo":2.5,"hi":3.5,"m":0.005}],
"sig":[{"lo":1.2,"hi":1.8,"f":0.149,"mid":1.5,"fs":0.177,"t":"**"},{"lo":2.2,"hi":2.8,"f":0.201,"mid":2.5,"fs":0.228,"t":"**"}]
},
"hconcat":[
{
"width":359,"height":357,
"title":{"text":"a","dx":-81},
"layer":[
{"data":{"name":"pts"},"transform":[{"filter":"datum.c != 'k'"}],"mark":{"type":"circle","size":40,"opacity":0.55},
"encoding":{
"x":{"field":"d","type":"quantitative","scale":{"domain":[-6.52,33.5],"nice":false,"zero":false},
"axis":{"values":[0,10,20,30],"title":"Euclidean distance","labelAngle":0,"labelBaseline":"alphabetic","labelPadding":37,"titleY":77,"titleBaseline":"alphabetic"}},
"y":{"field":"f","type":"quantitative","scale":{"domain":[-0.997,0.452],"nice":false,"zero":false},
"axis":{"values":[-0.8,-0.6,-0.4,-0.2,0,0.2,0.4],"labelExpr":"datum.value == 0.4 ? '0.4' : datum.value == 0 ? '0' : datum.value == -0.4 ? '−0.4' : datum.value == -0.8 ? '−0.8' : ''","labelAngle":270,"labelAlign":"center","labelBaseline":"alphabetic","labelPadding":17.5,"title":"Fitness","titleAngle":270,"titleX":-60,"titleY":178.5,"titleAlign":"center","titleBaseline":"alphabetic"}},
"color":{"field":"c","type":"nominal","scale":{"domain":["k","g","b"],"range":["#000000","#00dd00","#0000ff"]},"legend":null}}},
{"data":{"name":"core"},"mark":{"type":"circle","size":46,"opacity":0.85},
"encoding":{"x":{"field":"d","type":"quantitative"},"y":{"field":"f","type":"quantitative"},
"color":{"field":"c","type":"nominal","scale":{"domain":["k","g","b"],"range":["#000000","#00dd00","#0000ff"]},"legend":null}}},
{"data":{"name":"pts"},"transform":[{"filter":"datum.c == 'k'"}],"mark":{"type":"circle","size":40,"opacity":0.55,"color":"#000000"},
"encoding":{"x":{"field":"d","type":"quantitative"},"y":{"field":"f","type":"quantitative"}}},
{"data":{"values":[{}]},"mark":{"type":"rule","color":"#ff2a2a","strokeWidth":2},"encoding":{"x":{"datum":10}}},
{"data":{"values":[{}]},"mark":{"type":"rule","color":"#ff2a2a","strokeWidth":2},"encoding":{"y":{"datum":-0.046}}},
{"data":{"name":"labs"},"mark":{"type":"text","fontSize":18.5,"baseline":"alphabetic","align":"center"},
"encoding":{"x":{"field":"d","type":"quantitative"},"y":{"field":"f","type":"quantitative"},"text":{"field":"t"},
"color":{"field":"c","type":"nominal","scale":{"domain":["k","g","b"],"range":["#000000","#00c800","#0000ff"]},"legend":null}}}
],
"resolve":{"scale":{"color":"independent"}}
},
{
"width":348,"height":357,
"title":{"text":"b","dx":-78},
"layer":[
{"data":{"name":"vio"},"mark":{"type":"area","orient":"horizontal","color":"black","interpolate":"linear"},
"encoding":{
"y":{"field":"f","type":"quantitative","scale":{"domain":[-0.997,0.452],"nice":false,"zero":false},
"axis":{"values":[-0.8,-0.6,-0.4,-0.2,0,0.2,0.4],"labelExpr":"datum.value == 0.4 ? '0.4' : datum.value == 0 ? '0' : datum.value == -0.4 ? '−0.4' : datum.value == -0.8 ? '−0.8' : ''","labelAngle":270,"labelAlign":"center","labelBaseline":"alphabetic","labelPadding":17.5,"title":"Fitness","titleAngle":270,"titleX":-58.5,"titleY":178.5,"titleAlign":"center","titleBaseline":"alphabetic"}},
"x":{"field":"lo","type":"quantitative","scale":{"domain":[0.38,3.525],"nice":false,"zero":false},
"axis":{"values":[1,2,3],"title":null,"labelExpr":"datum.value == 1 ? ['Holistic','morphological','mutants'] : datum.value == 2 ? ['Specific','morphological','mutants'] : ['','Other mutants']","labelAngle":270,"labelAlign":"right","labelBaseline":"middle","labelPadding":15,"labelLineHeight":23,"labelOffset":-23}},
"x2":{"field":"hi"},
"detail":{"field":"v","type":"nominal"}}},
{"data":{"name":"med"},"mark":{"type":"rule","color":"#ff2a2a","strokeWidth":2.5},
"encoding":{"x":{"field":"lo","type":"quantitative"},"x2":{"field":"hi"},"y":{"field":"m","type":"quantitative"}}},
{"data":{"name":"sig"},"mark":{"type":"rule","color":"black","strokeWidth":1.5},
"encoding":{"x":{"field":"lo","type":"quantitative"},"x2":{"field":"hi"},"y":{"field":"f","type":"quantitative"}}},
{"data":{"name":"sig"},"mark":{"type":"text","fontSize":18,"baseline":"alphabetic","align":"center","color":"black"},
"encoding":{"x":{"field":"mid","type":"quantitative"},"y":{"field":"fs","type":"quantitative"},"text":{"field":"t"}}}
]
}
]
}
